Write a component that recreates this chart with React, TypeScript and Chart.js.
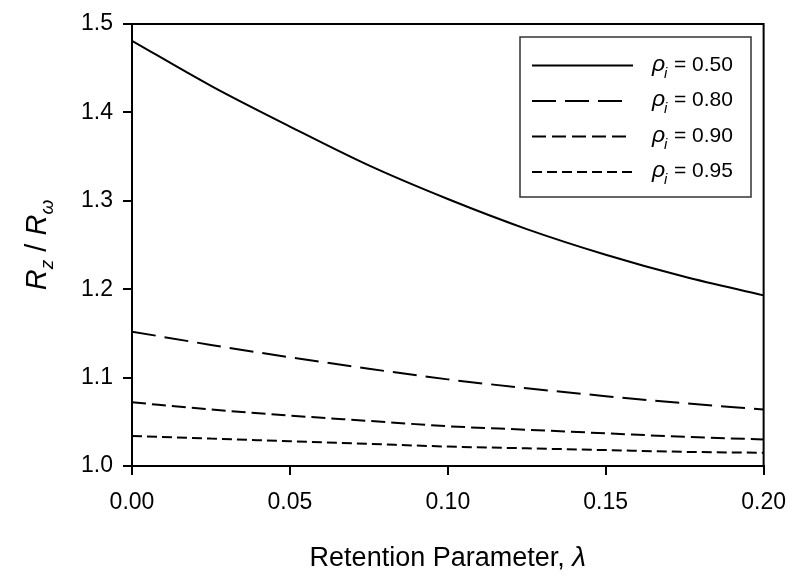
import React, { useEffect, useRef } from "react";
import { Chart, registerables } from "chart.js";

Chart.register(...registerables);

const xValues = [0, 0.025, 0.05, 0.075, 0.1, 0.125, 0.15, 0.175, 0.2];
const rho050 = [1.481, 1.43, 1.384, 1.34, 1.302, 1.268, 1.239, 1.214, 1.193];
const rho080 = [1.152, 1.137, 1.123, 1.11, 1.098, 1.088, 1.079, 1.071, 1.064];
const rho090 = [1.072, 1.064, 1.057, 1.051, 1.045, 1.041, 1.037, 1.033, 1.03];
const rho095 = [1.034, 1.031, 1.028, 1.025, 1.022, 1.02, 1.018, 1.016, 1.015];
const legendValues = ["0.50", "0.80", "0.90", "0.95"];

const FONT = "'Liberation Sans', Arial, sans-serif";
const dashes: number[][] = [[], [24, 9], [14, 6], [10, 5]];

const decorPlugin = {
  id: "decor",
  afterDraw(chart: any) {
    const { ctx, chartArea } = chart;
    ctx.save();
    ctx.strokeStyle = "#000";
    ctx.lineWidth = 2;
    ctx.beginPath();
    ctx.moveTo(chartArea.left, chartArea.top);
    ctx.lineTo(chartArea.right, chartArea.top);
    ctx.lineTo(chartArea.right, chartArea.bottom);
    ctx.stroke();

    // legend box
    ctx.lineWidth = 1.5;
    ctx.strokeStyle = "#333";
    ctx.strokeRect(520, 37, 231, 160);
    const rows = [65.5, 101, 136.5, 172];
    const ends = [633, 623, 627, 633];
    rows.forEach((y, i) => {
      ctx.strokeStyle = "#000";
      ctx.lineWidth = 2;
      ctx.setLineDash(dashes[i]);
      ctx.beginPath();
      ctx.moveTo(532, y);
      ctx.lineTo(ends[i], y);
      ctx.stroke();
      ctx.setLineDash([]);
      ctx.fillStyle = "#000";
      ctx.textBaseline = "alphabetic";
      ctx.textAlign = "left";
      ctx.font = `italic 23px ${FONT}`;
      ctx.fillText("ρ", 652, y + 5);
      ctx.font = `italic 15px ${FONT}`;
      ctx.fillText("i", 664, y + 12);
      ctx.font = `21px ${FONT}`;
      ctx.fillText("= " + legendValues[i], 674, y + 5);
    });

    // x title
    ctx.fillStyle = "#000";
    ctx.textBaseline = "alphabetic";
    ctx.textAlign = "left";
    ctx.font = `27px ${FONT}`;
    const t1 = "Retention Parameter, ";
    const w1 = ctx.measureText(t1).width;
    ctx.font = `italic 28px ${FONT}`;
    const w2 = ctx.measureText("λ").width;
    const cx = (chartArea.left + chartArea.right) / 2;
    const xs = cx - (w1 + w2) / 2;
    ctx.font = `27px ${FONT}`;
    ctx.fillText(t1, xs, 566);
    ctx.font = `italic 28px ${FONT}`;
    ctx.fillText("λ", xs + w1, 566);

    // y title
    ctx.translate(46, (chartArea.top + chartArea.bottom) / 2);
    ctx.rotate(-Math.PI / 2);
    const parts: [string, string, number][] = [
      ["R", `italic 29px ${FONT}`, 0],
      ["z", `italic 19px ${FONT}`, 7],
      [" / ", `29px ${FONT}`, 0],
      ["R", `italic 29px ${FONT}`, 0],
      ["ω", `italic 19px ${FONT}`, 7],
    ];
    let total = 0;
    parts.forEach(([t, f]) => {
      ctx.font = f;
      total += ctx.measureText(t).width;
    });
    let px = -total / 2;
    parts.forEach(([t, f, dy]) => {
      ctx.font = f;
      ctx.fillText(t, px, dy);
      px += ctx.measureText(t).width;
    });
    ctx.restore();
  },
};

export default function App() {
  const ref = useRef<HTMLCanvasElement | null>(null);
  useEffect(() => {
    document.body.style.margin = "0";
    const mk = (data: number[], i: number) => ({
      label: "rho " + legendValues[i],
      data: xValues.map((x, k) => ({ x, y: data[k] })),
      borderColor: "#000",
      borderWidth: 2,
      borderDash: dashes[i],
      pointRadius: 0,
      fill: false,
      cubicInterpolationMode: "monotone" as const,
    });
    const chart = new Chart(ref.current as HTMLCanvasElement, {
      type: "line",
      data: {
        datasets: [mk(rho050, 0), mk(rho080, 1), mk(rho090, 2), mk(rho095, 3)],
      },
      options: {
        animation: false,
        responsive: false,
        layout: { padding: { top: 24, right: 36, left: 0, bottom: 0 } },
        plugins: { legend: { display: false }, tooltip: { enabled: false } },
        scales: {
          x: {
            type: "linear",
            min: 0,
            max: 0.2,
            afterFit: (s: any) => {
              s.height = 115;
            },
            ticks: {
              stepSize: 0.05,
              callback: (v: any) => Number(v).toFixed(2),
              color: "#000",
              font: { family: FONT, size: 23 },
              padding: 14,
              maxRotation: 0,
            },
            grid: {
              drawOnChartArea: false,
              drawTicks: true,
              tickLength: 9,
              color: "#000",
              lineWidth: 2,
            },
            border: { display: true, color: "#000", width: 2 },
          },
          y: {
            type: "linear",
            min: 1.0,
            max: 1.5,
            afterFit: (s: any) => {
              s.width = 132;
            },
            ticks: {
              stepSize: 0.1,
              callback: (v: any) => Number(v).toFixed(1),
              color: "#000",
              font: { family: FONT, size: 23 },
              padding: 10,
            },
            grid: {
              drawOnChartArea: false,
              drawTicks: true,
              tickLength: 9,
              color: "#000",
              lineWidth: 2,
            },
            border: { display: true, color: "#000", width: 2 },
          },
        },
      },
      plugins: [decorPlugin],
    });
    return () => chart.destroy();
  }, []);
  return (
    <div style={{ width: 800, height: 581 }}>
      <canvas ref={ref} width={800} height={581} style={{ display: "block" }} />
    </div>
  );
}
